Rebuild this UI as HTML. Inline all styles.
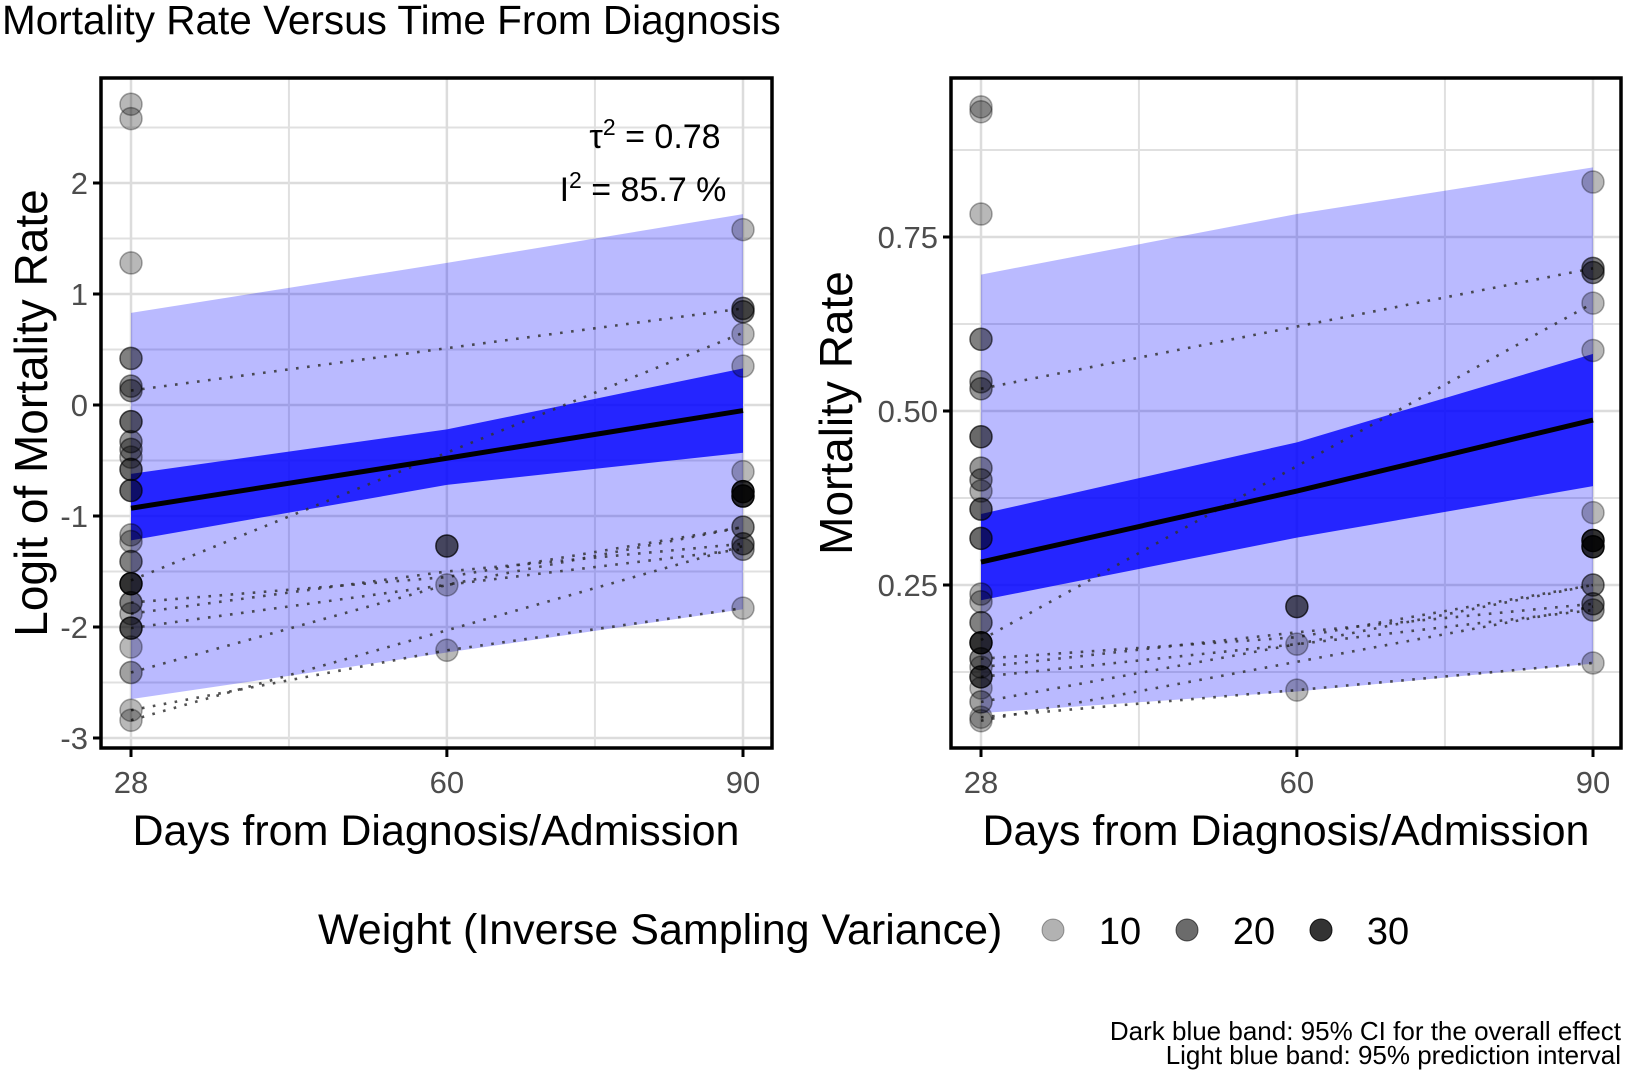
<!DOCTYPE html>
<html><head><meta charset="utf-8">
<style>
html,body{margin:0;padding:0;background:#fff;}
svg{display:block;font-family:"Liberation Sans",Arial,sans-serif;}
</style></head>
<body>
<svg id="chart" width="1625" height="1071" viewBox="0 0 1625 1071" xmlns="http://www.w3.org/2000/svg">
<text x="2" y="34" font-size="40.5" fill="#000">Mortality Rate Versus Time From Diagnosis</text>
<g id="left"></g>
<g id="right"></g>
<text transform="translate(47,413) rotate(-90)" text-anchor="middle" font-size="46">Logit of Mortality Rate</text>
<text transform="translate(852,413) rotate(-90)" text-anchor="middle" font-size="46">Mortality Rate</text>
<text x="436" y="845" text-anchor="middle" font-size="43">Days from Diagnosis/Admission</text>
<text x="1286" y="845" text-anchor="middle" font-size="43">Days from Diagnosis/Admission</text>
<text x="655" y="148" text-anchor="middle" font-size="34">τ<tspan dy="-13" font-size="23">2</tspan><tspan dy="13"> = 0.78</tspan></text>
<text x="643" y="201" text-anchor="middle" font-size="34">I<tspan dy="-13" font-size="23">2</tspan><tspan dy="13"> = 85.7 %</tspan></text>
<g>
<text x="318" y="944" font-size="43">Weight (Inverse Sampling Variance)</text>
<circle cx="1053" cy="930" r="11" fill="#000" fill-opacity="0.3" stroke="#000" stroke-opacity="0.35"/>
<text x="1120" y="944" text-anchor="middle" font-size="38">10</text>
<circle cx="1187" cy="930" r="11" fill="#000" fill-opacity="0.58" stroke="#000" stroke-opacity="0.6"/>
<text x="1254" y="944" text-anchor="middle" font-size="38">20</text>
<circle cx="1321" cy="930" r="11" fill="#000" fill-opacity="0.8" stroke="#000" stroke-opacity="0.85"/>
<text x="1388" y="944" text-anchor="middle" font-size="38">30</text>
</g>
<text x="1621" y="1040" text-anchor="end" font-size="26">Dark blue band: 95% CI for the overall effect</text>
<text x="1621" y="1064" text-anchor="end" font-size="26">Light blue band: 95% prediction interval</text>
</svg>
<script>
// ---- data (left panel: logit scale) ----
var bandDays = [28, 60, 90];
var logitFit = [-0.93, -0.48, -0.05];
var logitCiLow = [-1.22, -0.72, -0.43];
var logitCiHigh = [-0.62, -0.22, 0.33];
var logitPiLow = [-2.65, -2.23, -1.84];
var logitPiHigh = [0.83, 1.28, 1.72];
var pointDays = [28,28,28,28,28,28,28,28,28,28,28,28,28,28,28,28,28,28,28,28,28,28,28, 60,60,60, 90,90,90,90,90,90,90,90,90,90,90,90];
var pointLogit = [2.71,2.58,1.28,0.42,0.17,0.13,-0.15,-0.33,-0.40,-0.47,-0.58,-0.77,-1.17,-1.23,-1.41,-1.61,-1.78,-1.88,-2.01,-2.18,-2.41,-2.75,-2.84, -1.27,-1.62,-2.21, 1.58,0.87,0.84,0.64,0.35,-0.60,-0.78,-0.82,-1.10,-1.25,-1.30,-1.83];
var pointWeight = [8,8,8,18,14,14,22,14,14,10,22,22,10,10,18,33,18,10,26,8,12,8,8, 24,8,8, 8,18,18,8,8,8,33,33,18,18,14,8];
var studyDays = [[28,90],[28,90],[28,60,90],[28,60,90],[28,60,90],[28,60,90],[28,60,90],[28,90]];
var studyLogit = [[0.13,0.87],[-1.58,0.65],[-1.78,-1.55,-1.10],[-1.88,-1.50,-1.25],[-2.01,-1.62,-1.30],[-2.41,-1.62,-1.10],[-2.75,-2.21,-1.83],[-2.84,-1.27,-1.25]];
// ---- data (right panel: proportion scale) ----
var rateFit = [0.283, 0.385, 0.487];
var rateCiLow = [0.228, 0.318, 0.392];
var rateCiHigh = [0.352, 0.455, 0.582];
var ratePiLow = [0.066, 0.097, 0.137];
var ratePiHigh = [0.696, 0.783, 0.850];
var pointRate = [0.937,0.930,0.783,0.603,0.542,0.532,0.463,0.418,0.401,0.385,0.359,0.317,0.237,0.226,0.196,0.167,0.144,0.132,0.118,0.102,0.082,0.060,0.055, 0.219,0.165,0.099, 0.829,0.705,0.699,0.655,0.587,0.354,0.314,0.305,0.250,0.223,0.214,0.138];
var studyRate = [[0.532,0.705],[0.171,0.655],[0.144,0.175,0.250],[0.132,0.182,0.223],[0.118,0.165,0.214],[0.082,0.165,0.250],[0.060,0.099,0.138],[0.055,0.219,0.223]];
var leftYTicks = [-3,-2,-1,0,1,2];
var leftYMinor = [-2.5,-1.5,-0.5,0.5,1.5,2.5];
var rightYTicks = [0.25,0.50,0.75];
var rightYTickLabels = ["0.25","0.50","0.75"];
var rightYMinor = [0.125,0.375,0.625,0.875];
var xTicks = [28,60,90];
var xMinor = [44,75];

var NS = "http://www.w3.org/2000/svg";
function mk(tag, attrs, parent){var e=document.createElementNS(NS,tag);for(var k in attrs)e.setAttribute(k,attrs[k]);parent.appendChild(e);return e;}
function alphaOf(w){return Math.min(0.95, 0.12 + w*0.026);}

function drawPanel(g, cfg){
  var sx = function(d){return cfg.x28 + (d-28)*(cfg.x90-cfg.x28)/62;};
  var sy = function(v){return cfg.yRef - (v-cfg.vRef)*cfg.pxPerUnit;};
  var clip = mk('clipPath',{id:cfg.id+'-clip'},g);
  mk('rect',{x:cfg.x0,y:cfg.y0,width:cfg.x1-cfg.x0,height:cfg.y1-cfg.y0},clip);
  var inner = mk('g',{'clip-path':'url(#'+cfg.id+'-clip)'},g);
  cfg.minorY.forEach(function(v){var l=mk('line',{x1:cfg.x0,x2:cfg.x1,y1:sy(v),y2:sy(v),stroke:'#e0e0e0','stroke-width':2},inner);
    
    });
  cfg.ticksY.forEach(function(v){var l=mk('line',{x1:cfg.x0,x2:cfg.x1,y1:sy(v),y2:sy(v),stroke:'#dcdcdc','stroke-width':2.5},inner);
    
    });
  xMinor.forEach(function(d){var l=mk('line',{x1:sx(d),x2:sx(d),y1:cfg.y0,y2:cfg.y1,stroke:'#e0e0e0','stroke-width':2},inner);
    
    });
  xTicks.forEach(function(d){var l=mk('line',{x1:sx(d),x2:sx(d),y1:cfg.y0,y2:cfg.y1,stroke:'#dcdcdc','stroke-width':2.5},inner);
    
    });
  function band(lo,hi,fill,op,name){
    var pts=[];for(var i=0;i<bandDays.length;i++)pts.push(sx(bandDays[i])+','+sy(hi[i]));
    for(var j=bandDays.length-1;j>=0;j--)pts.push(sx(bandDays[j])+','+sy(lo[j]));
    var p=mk('polygon',{points:pts.join(' '),fill:fill,'fill-opacity':op},inner);
    
    
  }
  band(cfg.piLo,cfg.piHi,'#0000ff',0.27,'prediction-interval-band');
  band(cfg.ciLo,cfg.ciHi,'#0000ff',0.8,'confidence-interval-band');
  for(var s=0;s<studyDays.length;s++){
    var pts=studyDays[s].map(function(d,i){return sx(d)+','+sy(cfg.study[s][i]);}).join(' ');
    var pl=mk('polyline',{points:pts,fill:'none',stroke:'#333','stroke-width':2.6,'stroke-dasharray':'2.6 8.5','stroke-opacity':0.85},inner);
    
    
  }
  var fp=bandDays.map(function(d,i){return sx(d)+','+sy(cfg.fit[i]);}).join(' ');
  var fl=mk('polyline',{points:fp,fill:'none',stroke:'#000','stroke-width':5},inner);
  
  
  for(var k=0;k<pointDays.length;k++){
    var a=alphaOf(pointWeight[k]);
    var c=mk('circle',{cx:sx(pointDays[k]),cy:sy(cfg.pts[k]),r:11,fill:'#000','fill-opacity':a*0.85,stroke:'#000','stroke-opacity':a,'stroke-width':1.5},inner);
    
    
  }
  var fr=mk('rect',{x:cfg.x0,y:cfg.y0,width:cfg.x1-cfg.x0,height:cfg.y1-cfg.y0,fill:'none',stroke:'#000','stroke-width':3.5},g);
  
  
  cfg.ticksY.forEach(function(v,i){
    var t=mk('line',{x1:cfg.x0-8,x2:cfg.x0,y1:sy(v),y2:sy(v),stroke:'#000','stroke-width':3},g);
    
    
    var tx=mk('text',{x:cfg.x0-13,y:sy(v)+11,'text-anchor':'end','font-size':31,fill:'#4d4d4d'},g);
    tx.textContent=cfg.labelsY[i];
    
    
  });
  xTicks.forEach(function(d){
    var t=mk('line',{x1:sx(d),x2:sx(d),y1:cfg.y1,y2:cfg.y1+9,stroke:'#000','stroke-width':3},g);
    
    
    var tx=mk('text',{x:sx(d),y:cfg.y1+45,'text-anchor':'middle','font-size':31,fill:'#4d4d4d'},g);
    tx.textContent=String(d);
    
    
  });
}
drawPanel(document.getElementById('left'),{id:'left',x0:101,x1:772,y0:78,y1:748,x28:131,x90:743,yRef:405,vRef:0,pxPerUnit:111,
  ticksY:leftYTicks,labelsY:leftYTicks.map(String),minorY:leftYMinor,
  fit:logitFit,ciLo:logitCiLow,ciHi:logitCiHigh,piLo:logitPiLow,piHi:logitPiHigh,pts:pointLogit,study:studyLogit});
drawPanel(document.getElementById('right'),{id:'right',x0:951,x1:1621,y0:78,y1:748,x28:981,x90:1593,yRef:585,vRef:0.25,pxPerUnit:696,
  ticksY:rightYTicks,labelsY:rightYTickLabels,minorY:rightYMinor,
  fit:rateFit,ciLo:rateCiLow,ciHi:rateCiHigh,piLo:ratePiLow,piHi:ratePiHigh,pts:pointRate,study:studyRate});
</script>
</body></html>
